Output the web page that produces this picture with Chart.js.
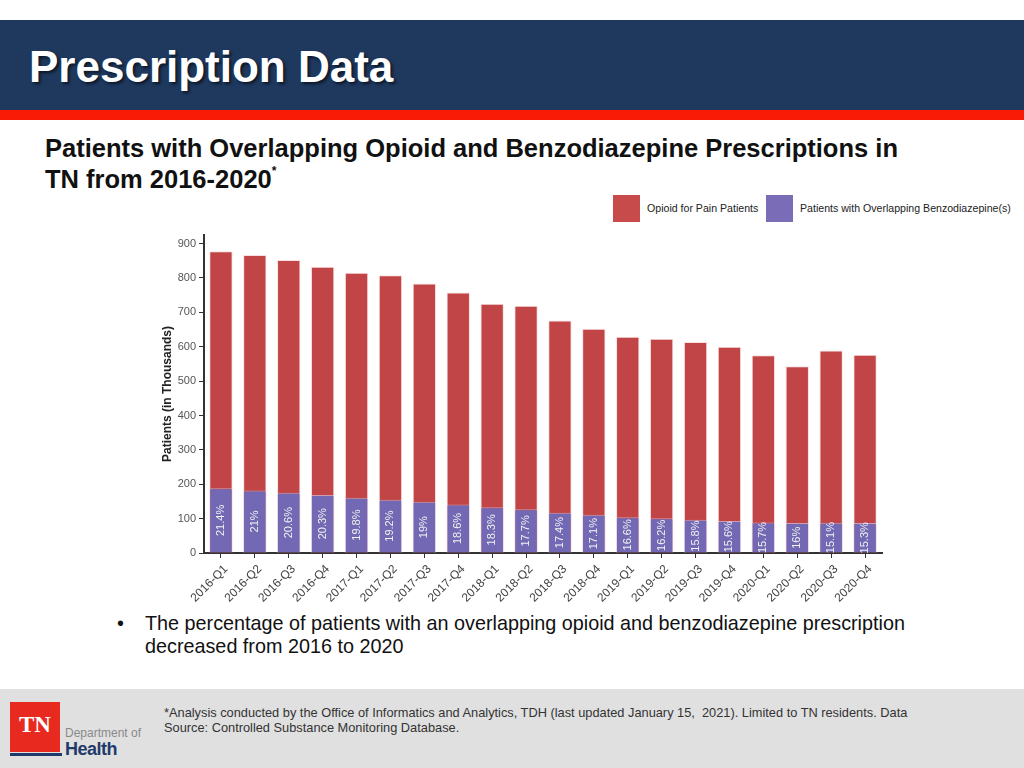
<!DOCTYPE html>
<html>
<head>
<meta charset="utf-8">
<script src="https://cdn.jsdelivr.net/npm/chart.js@4.4.1/dist/chart.umd.min.js"></script>
<style>
  html, body { margin: 0; padding: 0; }
  body {
    width: 1024px; height: 768px; position: relative; overflow: hidden;
    background: #fff; font-family: "Liberation Sans", Arial, sans-serif; color: #111;
  }
  .banner { position: absolute; left: 0; top: 20px; width: 1024px; height: 90px; background: #1e385e; }
  .stripe { position: absolute; left: 0; top: 110px; width: 1024px; height: 10px; background: #f91b06; }
  .title {
    position: absolute; left: 29px; top: 45px; font-size: 44px; line-height: 44px;
    font-weight: bold; color: #fff; text-shadow: 2px 2px 3px rgba(0,0,0,.6);
  }
  .subtitle {
    position: absolute; left: 45px; top: 133px; font-size: 25.5px; line-height: 31px;
    font-weight: bold; color: #111; white-space: nowrap;
  }
  .subtitle sup { font-size: 12px; vertical-align: top; line-height: 14px; }
  .legend { position: absolute; top: 195px; left: 613px; height: 27px; }
  .legend .item { position: absolute; top: 0; height: 27px; white-space: nowrap; font-size: 10.6px; line-height: 27px; color: #222; }
  .legend .box { position: absolute; left: 0; top: 0; width: 27px; height: 27px; }
  .legend .lbl { position: absolute; left: 34px; top: 0; }
  #wrap { position: absolute; left: 150px; top: 225px; width: 760px; height: 385px; }
  .bullet { position: absolute; left: 117px; top: 612px; font-size: 19.8px; line-height: 23px; color: #111; }
  .bullet .txt { position: absolute; left: 28px; top: 0; width: 820px; white-space: nowrap; }
  .footer { position: absolute; left: 0; top: 689px; width: 1024px; height: 79px; background: #e0e0e0; }
  .note { position: absolute; left: 164px; top: 705px; font-size: 12.8px; line-height: 15px; color: #333; white-space: nowrap; }
  .logo-box {
    position: absolute; left: 10px; top: 702px; width: 50px; height: 50px; background: #e8291f;
    color: #fff; font-family: "Liberation Serif", "DejaVu Serif", serif; font-size: 23px; font-weight: bold;
    line-height: 46px; text-align: center;
  }
  .logo-bar { position: absolute; left: 10px; top: 753px; width: 52px; height: 3px; background: #1f3a6a; }
  .logo-dept { position: absolute; left: 65px; top: 726px; font-size: 12px; color: #8a8a8a; }
  .logo-health { position: absolute; left: 65px; top: 739px; font-size: 18px; font-weight: bold; color: #1f3a6a; letter-spacing: -0.5px; }
</style>
</head>
<body>
<div class="banner"></div>
<div class="stripe"></div>
<div class="title">Prescription Data</div>
<div class="subtitle">Patients with Overlapping Opioid and Benzodiazepine Prescriptions in<br>TN from 2016-2020<sup>*</sup></div>
<div class="legend" id="legend"></div>
<div id="wrap"><canvas id="chart"></canvas></div>
<div class="bullet">•<div class="txt">The percentage of patients with an overlapping opioid and benzodiazepine prescription<br>decreased from 2016 to 2020</div></div>
<div class="footer"></div>
<div class="note">*Analysis conducted by the Office of Informatics and Analytics, TDH (last updated January 15,&nbsp; 2021). Limited to TN residents. Data<br>Source: Controlled Substance Monitoring Database.</div>
<div class="logo-box">TN</div>
<div class="logo-bar"></div>
<div class="logo-dept">Department of</div>
<div class="logo-health">Health</div>

<script>
const quarters = [
  "2016-Q1", "2016-Q2", "2016-Q3", "2016-Q4",
  "2017-Q1", "2017-Q2", "2017-Q3", "2017-Q4",
  "2018-Q1", "2018-Q2", "2018-Q3", "2018-Q4",
  "2019-Q1", "2019-Q2", "2019-Q3", "2019-Q4",
  "2020-Q1", "2020-Q2", "2020-Q3", "2020-Q4",
];
// thousands of patients
const opioidPatients = [878, 867, 852, 833, 815, 808, 784, 758, 725, 719, 676, 652, 629, 623, 614, 600, 575, 543, 589, 577];
const overlapPatients = [188, 182, 175, 169, 161, 155, 149, 141, 133, 127, 117, 111, 104, 101, 97, 93, 89, 87, 88, 87];
const overlapPct = ["21.4%", "21%", "20.6%", "20.3%", "19.8%", "19.2%", "19%", "18.6%", "18.3%", "17.7%",
  "17.4%", "17.1%", "16.6%", "16.2%", "15.8%", "15.6%", "15.7%", "16%", "15.1%", "15.3%"];
const yTicks = [0, 100, 200, 300, 400, 500, 600, 700, 800, 900];

const RED = "#c14546";
const PURPLE = "#7368b3";
const FONT = '"Liberation Sans", Arial, sans-serif';

// legend in html, placed like the slide
const legendItems = [
  { label: "Opioid for Pain Patients", color: "#c84b4b", left: 0 },
  { label: "Patients with Overlapping Benzodiazepine(s)", color: "#7b6cb8", left: 153 },
];
document.getElementById("legend").innerHTML = legendItems
  .map((item) => `<div class="item" style="left:${item.left}px"><span class="box" style="background:${item.color}"></span><span class="lbl">${item.label}</span></div>`)
  .join("");

const pctLabels = {
  id: "pctLabels",
  afterDatasetsDraw(chart) {
    const meta = chart.getDatasetMeta(0);
    const ctx = chart.ctx;
    ctx.save();
    ctx.font = "11px " + FONT;
    ctx.fillStyle = "#f2f2f2";
    ctx.textAlign = "center";
    ctx.textBaseline = "middle";
    meta.data.forEach((bar, i) => {
      const { x, y, base } = bar.getProps(["x", "y", "base"], true);
      ctx.save();
      ctx.translate(x, (y + base) / 2);
      ctx.rotate(-Math.PI / 2);
      ctx.fillText(overlapPct[i], 0, 0);
      ctx.restore();
    });
    ctx.restore();
  },
};

new Chart(document.getElementById("chart"), {
  type: "bar",
  data: {
    labels: quarters,
    datasets: [
      {
        label: "Patients with Overlapping Benzodiazepine(s)",
        data: overlapPatients,
        backgroundColor: PURPLE,
        borderColor: "rgba(220,215,245,0.6)",
        borderWidth: 1,
        grouped: false,
        categoryPercentage: 1,
        barPercentage: 0.69,
      },
      {
        label: "Opioid for Pain Patients",
        data: opioidPatients,
        backgroundColor: RED,
        borderColor: "rgba(250,210,210,0.7)",
        borderWidth: 1,
        grouped: false,
        categoryPercentage: 1,
        barPercentage: 0.69,
      },
    ],
  },
  options: {
    responsive: true,
    maintainAspectRatio: false,
    animation: false,
    layout: { padding: { left: 6, top: 10, right: 28, bottom: 0 } },
    plugins: { legend: { display: false }, tooltip: { enabled: false } },
    scales: {
      x: {
        grid: { display: true, drawOnChartArea: false, drawTicks: true, tickLength: 5, color: "#333", offset: false },
        border: { color: "#333", width: 2 },
        ticks: { color: "#444", font: { family: FONT, size: 12 }, maxRotation: 45, minRotation: 45, autoSkip: false, padding: 4, labelOffset: 5 },
        afterFit(scale) { scale.height = 57; },
      },
      y: {
        min: 0,
        max: 925,
        afterBuildTicks(scale) { scale.ticks = yTicks.map((value) => ({ value })); },
        grid: { display: true, drawOnChartArea: false, drawTicks: true, tickLength: 5, color: "#333" },
        border: { color: "#333", width: 2 },
        ticks: { color: "#555", font: { family: FONT, size: 11 }, padding: 3 },
        title: { display: true, text: "Patients (in Thousands)", color: "#222", font: { family: FONT, size: 12, weight: "bold" }, padding: { top: 4, bottom: 4 } },
        afterFit(scale) { scale.width = 48; },
      },
    },
  },
  plugins: [pctLabels],
});
</script>
</body>
</html>
